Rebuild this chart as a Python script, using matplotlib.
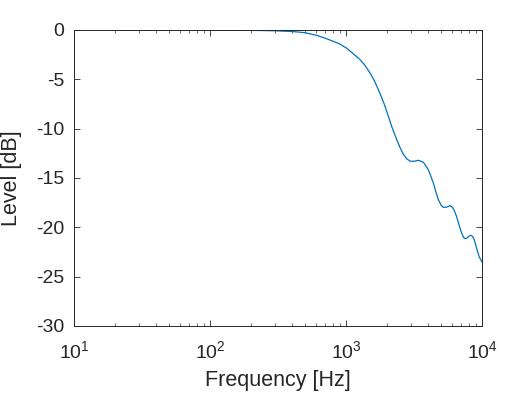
import matplotlib
matplotlib.use('Agg')
import matplotlib.pyplot as plt
from matplotlib.ticker import LogLocator, NullFormatter

plt.rcParams['font.family'] = ['Liberation Sans', 'DejaVu Sans']
plt.rcParams['mathtext.default'] = 'regular'
plt.rcParams['axes.unicode_minus'] = False

# frequency response (Hz, dB)
freq = [20, 50, 100, 200, 300, 400, 500, 609, 700, 763, 807, 900, 1012, 1130,
        1268, 1380, 1500, 1610, 1729, 1830, 1937, 2050, 2167, 2359, 2494, 2640,
        2800, 2955, 3200, 3404, 3706, 4030, 4200, 4387, 4580, 4775, 5000, 5193,
        5500, 5820, 6050, 6258, 6500, 6697, 7000, 7296, 7500, 7724, 8000, 8266,
        8500, 8737, 9000, 9245, 9540, 10000]
level = [0.0, 0.0, 0.0, -0.03, -0.08, -0.15, -0.27, -0.55, -0.82, -1.02, -1.15,
         -1.42, -1.85, -2.4, -3.0, -3.6, -4.35, -5.1, -6.04, -6.85, -7.74, -8.75,
         -9.77, -11.1, -11.9, -12.6, -13.05, -13.3, -13.3, -13.2, -13.4, -14.16,
         -14.8, -15.5, -16.4, -17.2, -17.75, -17.98, -17.95, -17.8, -17.95, -18.3,
         -18.9, -19.5, -20.4, -21.0, -21.15, -21.1, -20.9, -20.8, -20.9, -21.2,
         -21.8, -22.4, -23.0, -23.5]

fig = plt.figure(figsize=(5.32, 3.96), dpi=100)
ax = fig.add_axes([74 / 532, 1 - 326 / 396, 408 / 532, 296 / 396])

ax.semilogx(freq, level, color='#0072BD', linewidth=0.9)

ax.set_xlim(10, 1e4)
ax.set_ylim(-30, 0)
ax.set_yticks([0, -5, -10, -15, -20, -25, -30])
ax.xaxis.set_major_locator(LogLocator(base=10, numticks=10))
ax.xaxis.set_minor_locator(LogLocator(base=10, subs=range(2, 10), numticks=20))
ax.xaxis.set_minor_formatter(NullFormatter())

ax.tick_params(which='both', direction='in', top=True, right=True,
               labelsize=14, colors='#262626')
ax.tick_params(axis='y', pad=7)
ax.tick_params(axis='x', pad=10)
ax.tick_params(which='major', length=4, width=0.6)
ax.tick_params(which='minor', length=2.5, width=0.5)
for s in ax.spines.values():
    s.set_color('#262626')
    s.set_linewidth(0.7)

ax.set_xlabel('Frequency [Hz]', fontsize=15.5, color='#262626', labelpad=6)
ax.set_ylabel('Level [dB]', fontsize=15.5, color='#262626', labelpad=10)

fig.savefig('out.png', dpi=100)
